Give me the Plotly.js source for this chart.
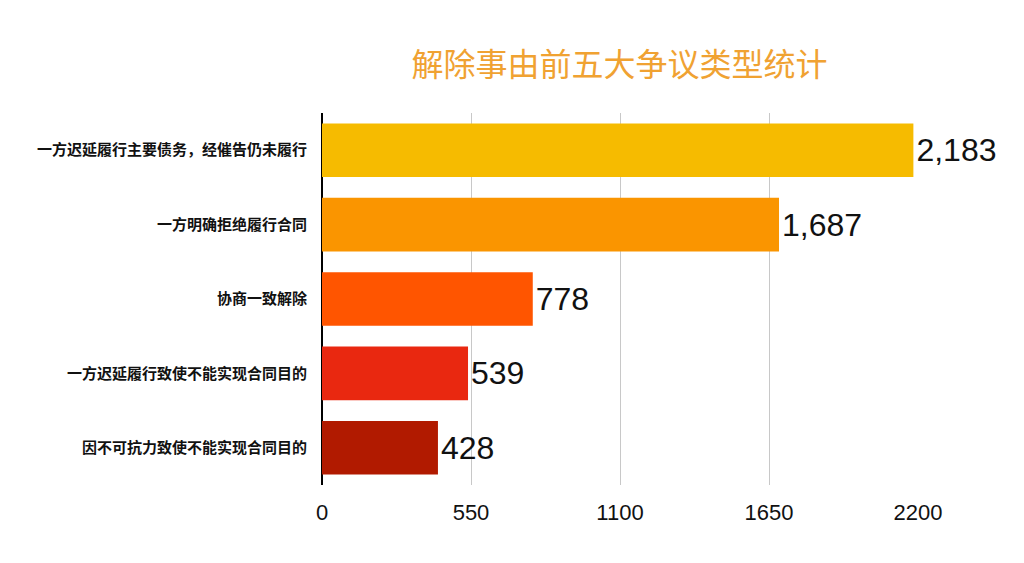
<!DOCTYPE html>
<html>
<head>
<meta charset="utf-8">
<script src="https://cdn.plot.ly/plotly-3.0.1.min.js"></script>
<style>html,body{margin:0;padding:0;background:#fff;}#chart{width:1024px;height:563px;}</style>
</head>
<body>
<div id="chart"></div>
<script>
const categories = ["一方迟延履行主要债务，经催告仍未履行","一方明确拒绝履行合同","协商一致解除","一方迟延履行致使不能实现合同目的","因不可抗力致使不能实现合同目的"];
const values = [2183, 1687, 778, 539, 428];
const barColors = ["#F6BB00", "#FA9500", "#FF5500", "#E92810", "#B11A00"];
const tickVals = [0, 550, 1100, 1650, 2200];

const trace = {
  type: 'bar',
  orientation: 'h',
  y: categories,
  x: values,
  marker: {color: barColors},
  width: 0.72,
  text: values.map(v => v.toLocaleString('en-US')),
  textposition: 'outside',
  textfont: {family: 'Liberation Sans, Arial, sans-serif', size: 32, color: '#111'},
  cliponaxis: false,
  hoverinfo: 'none'
};

const layout = {
  width: 1024, height: 563,
  margin: {l: 322, r: 106, t: 113, b: 78},
  paper_bgcolor: '#fff', plot_bgcolor: '#fff',
  showlegend: false,
  title: {text: '解除事由前五大争议类型统计', x: 0.605, xanchor: 'center', y: 0.885, yanchor: 'middle',
          font: {family: 'Noto Sans CJK SC, sans-serif', size: 32, color: '#F0A232'}},
  xaxis: {range: [0, 2200], tickvals: tickVals, ticktext: tickVals.map(String),
          showgrid: true, gridcolor: '#c8c8c8', gridwidth: 1,
          zeroline: true, zerolinecolor: '#000', zerolinewidth: 1.5,
          showline: false, ticks: '', ticklen: 0, ticklabelstandoff: 12,
          tickfont: {family: 'Liberation Sans, Arial, sans-serif', size: 22, color: '#111'}},
  yaxis: {autorange: 'reversed', showgrid: false, showline: false, ticks: '', ticklen: 0,
          ticklabelstandoff: 14,
          tickfont: {family: 'Noto Sans CJK SC, sans-serif', size: 15, weight: 'bold', color: '#111'}},
  bargap: 0.28
};

Plotly.newPlot('chart', [trace], layout, {displayModeBar: false, staticPlot: true});
</script>
</body>
</html>
